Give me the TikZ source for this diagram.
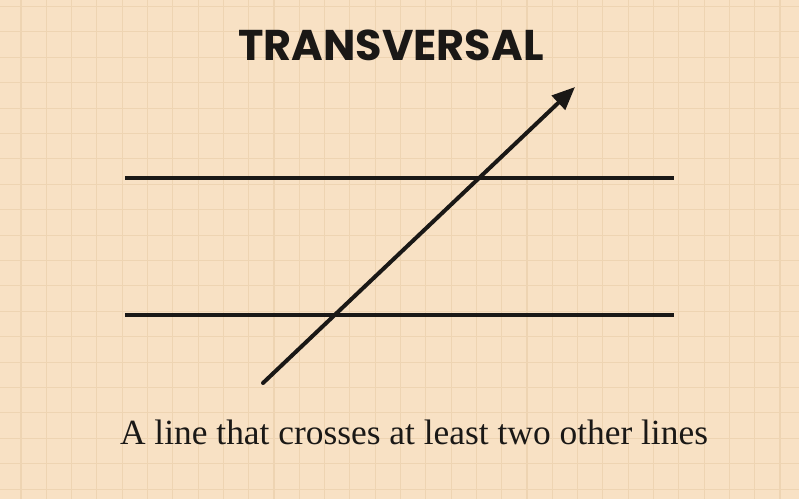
\documentclass[tikz,border=0pt]{standalone}
\usepackage{fontspec}
\setmainfont{Liberation Serif}
\newfontfamily\titlefont{Poppins}
\usetikzlibrary{arrows.meta}
\definecolor{paper}{RGB}{248,225,196}
\definecolor{gridc}{RGB}{238,212,178}
\definecolor{ink}{RGB}{26,24,22}
\tikzset{
  gridline/.style={draw=gridc, line width=1.1pt},
  mainline/.style={draw=ink, line width=4pt},
  titletext/.style={font=\titlefont\bfseries\fontsize{43}{48}\selectfont, text=ink, inner sep=0pt},
  captext/.style={font=\fontsize{35.4}{40}\selectfont, text=ink, inner sep=0pt}
}
\begin{document}
\begin{tikzpicture}[x=1pt,y=-1pt]
  \fill[paper] (0,0) rectangle (799,499);
  \useasboundingbox (0,0) rectangle (799,499);
  \foreach \i in {0,...,30} {
    \draw[gridline] ({21+25.3*\i},0) -- ({21+25.3*\i},499);
  }
  \foreach \j in {0,...,19} {
    \draw[gridline] (0,{6.5+25.4*\j}) -- (799,{6.5+25.4*\j});
  }
  \coordinate (l1a) at (125,178);
  \coordinate (l1b) at (674,178);
  \coordinate (l2a) at (125,315);
  \coordinate (l2b) at (674,315);
  \coordinate (ts) at (263,383);
  \coordinate (te) at (575,87);
  \draw[mainline] (l1a) -- (l1b);
  \draw[mainline] (l2a) -- (l2b);
  \draw[mainline, line cap=round, -{Triangle[length=23pt,width=19pt]}] (ts) -- (te);
  \node[titletext] (title) at (391,45) {TRANSVERSAL};
  \node[captext, anchor=base] (cap) at (414,444) {A line that crosses at least two other lines};
\end{tikzpicture}
\end{document}
